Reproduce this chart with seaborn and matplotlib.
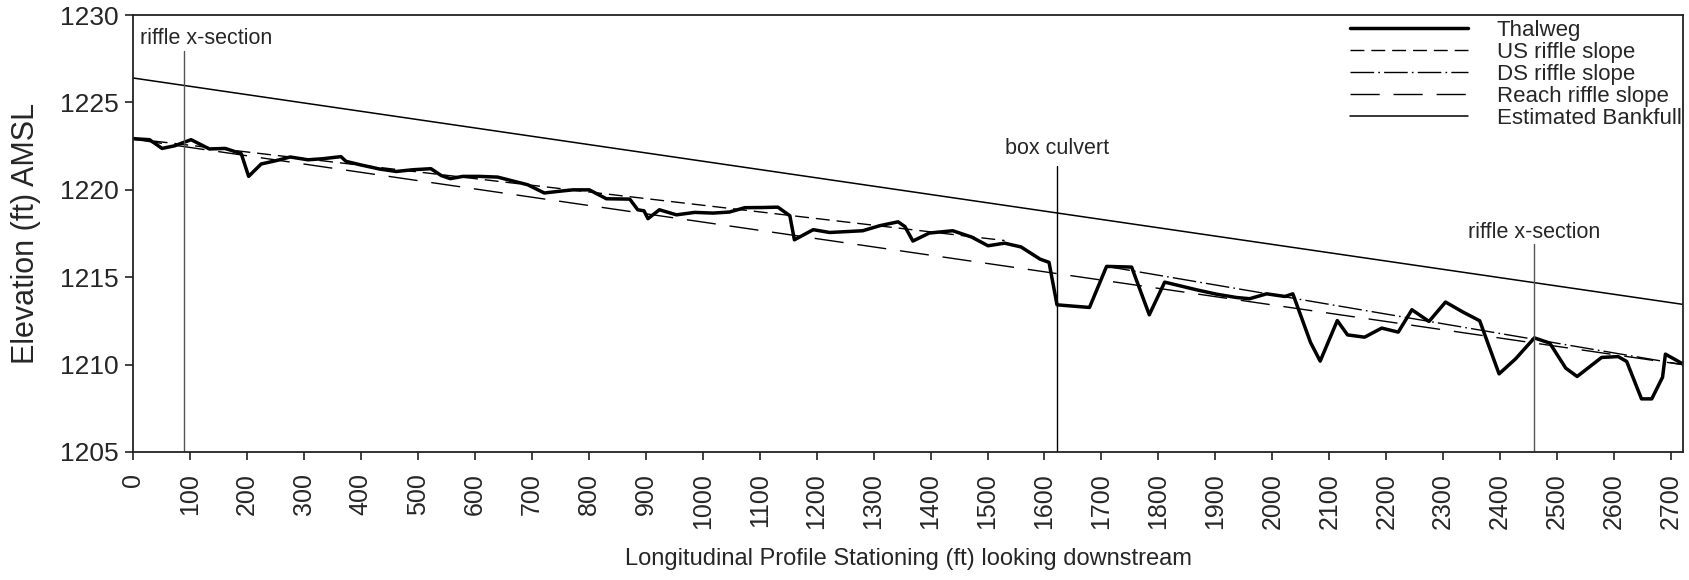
import matplotlib
matplotlib.use("Agg")
import matplotlib.pyplot as plt
import seaborn as sns
import pandas as pd

# --- data read from the profile ---
station = [0, 29, 51, 73, 102, 134, 162, 190, 203, 225, 251, 276, 307, 333, 365, 374,
           398, 433, 462, 491, 523, 541, 557, 579, 608, 640, 670, 693, 722, 746, 772,
           801, 831, 872, 886, 897, 904, 924, 954, 986, 1018, 1047, 1074, 1106, 1132,
           1153, 1161, 1194, 1223, 1281, 1311, 1343, 1355, 1369, 1398, 1439, 1472,
           1501, 1530, 1559, 1592, 1608, 1622, 1679, 1709, 1753, 1784, 1811, 1867,
           1902, 1937, 1960, 1990, 2022, 2036, 2067, 2084, 2114, 2132, 2162, 2192,
           2221, 2245, 2275, 2304, 2335, 2364, 2398, 2427, 2460, 2487, 2515, 2535,
           2578, 2607, 2622, 2648, 2666, 2685, 2690, 2721]
thalweg = [1222.93, 1222.87, 1222.37, 1222.52, 1222.87, 1222.34, 1222.37, 1222.07,
           1220.77, 1221.48, 1221.67, 1221.88, 1221.72, 1221.78, 1221.90, 1221.63,
           1221.44, 1221.19, 1221.05, 1221.15, 1221.21, 1220.82, 1220.64, 1220.77,
           1220.77, 1220.73, 1220.48, 1220.29, 1219.82, 1219.91, 1220.00, 1220.00,
           1219.49, 1219.47, 1218.86, 1218.80, 1218.35, 1218.86, 1218.57, 1218.71,
           1218.67, 1218.73, 1218.98, 1218.99, 1219.01, 1218.52, 1217.14, 1217.72,
           1217.56, 1217.66, 1217.95, 1218.17, 1217.90, 1217.07, 1217.53, 1217.66,
           1217.30, 1216.80, 1216.95, 1216.73, 1216.04, 1215.85, 1213.42, 1213.27,
           1215.62, 1215.58, 1212.85, 1214.72, 1214.28, 1214.03, 1213.84, 1213.77,
           1214.05, 1213.90, 1214.05, 1211.27, 1210.20, 1212.52, 1211.70, 1211.57,
           1212.09, 1211.86, 1213.14, 1212.47, 1213.58, 1213.00, 1212.51, 1209.47,
           1210.33, 1211.53, 1211.23, 1209.80, 1209.32, 1210.41, 1210.46, 1210.18,
           1208.04, 1208.04, 1209.28, 1210.60, 1210.03]

us_x = [0, 1530]
us_y = [1222.93, 1217.10]
ds_x = [1709, 2720]
ds_y = [1215.62, 1210.00]
reach_x = [0, 2720]
reach_y = [1222.90, 1210.00]
bank_x = [0, 2720]
bank_y = [1226.40, 1213.45]

marker_x = [90, 1622, 2460]
marker_top = [1227.95, 1221.35, 1216.90]
marker_text = ["riffle x-section", "box culvert", "riffle x-section"]
marker_text_y = [1228.65, 1222.35, 1217.55]

sns.set_style("ticks")
plt.rcParams["font.family"] = ["Liberation Sans", "DejaVu Sans"]

fig = plt.figure(figsize=(16.9, 5.8), dpi=100)
ax = fig.add_axes([0.0787, 0.2207, 0.9172, 0.7533])

prof = pd.DataFrame({"station": station, "elev": thalweg})
sns.lineplot(data=prof, x="station", y="elev", ax=ax, color="black", lw=2.5,
             estimator=None, sort=False, label="Thalweg")
sns.lineplot(x=us_x, y=us_y, ax=ax, color="black", lw=1.0,
             label="US riffle slope").lines[-1].set_dashes((10, 5))
sns.lineplot(x=ds_x, y=ds_y, ax=ax, color="black", lw=1.0,
             label="DS riffle slope").lines[-1].set_dashes((17, 3, 1.2, 3))
sns.lineplot(x=reach_x, y=reach_y, ax=ax, color="black", lw=1.0,
             label="Reach riffle slope").lines[-1].set_dashes((21, 10))
sns.lineplot(x=bank_x, y=bank_y, ax=ax, color="black", lw=1.1,
             label="Estimated Bankfull")

# reference stations
for i, (mx, mt, txt, ty) in enumerate(zip(marker_x, marker_top, marker_text, marker_text_y)):
    col = "black" if txt == "box culvert" else "#555555"
    ax.plot([mx, mx], [1205, mt], color=col, lw=1.0)
    if i == 0:
        ax.text(12, ty, txt, ha="left", va="center", fontsize=15.5)
    else:
        ax.text(mx, ty, txt, ha="center", va="center", fontsize=15.5)

ax.set_xlim(0, 2721)
ax.set_ylim(1205, 1230)
ax.set_xticks(range(0, 2701, 100))
ax.set_yticks(range(1205, 1231, 5))
ax.tick_params(axis="x", labelrotation=90, labelsize=18, length=6, width=1.2,
               color="#222222", pad=9)
ax.tick_params(axis="y", labelsize=19, length=6, width=1.2, color="#222222", pad=4)
for s in ax.spines.values():
    s.set_visible(True)
    s.set_linewidth(1.3)
    s.set_color("#222222")

ax.set_xlabel("Longitudinal Profile Stationing (ft) looking downstream", fontsize=17, labelpad=14)
ax.set_ylabel("Elevation (ft) AMSL", fontsize=22, labelpad=14)

ax.legend(loc="upper right", bbox_to_anchor=(1.002, 1.0), frameon=False, fontsize=16,
          handlelength=5.3, handletextpad=1.3, labelspacing=0.05,
          borderaxespad=0.1, borderpad=0.1)

fig.savefig("out.png", dpi=100)
